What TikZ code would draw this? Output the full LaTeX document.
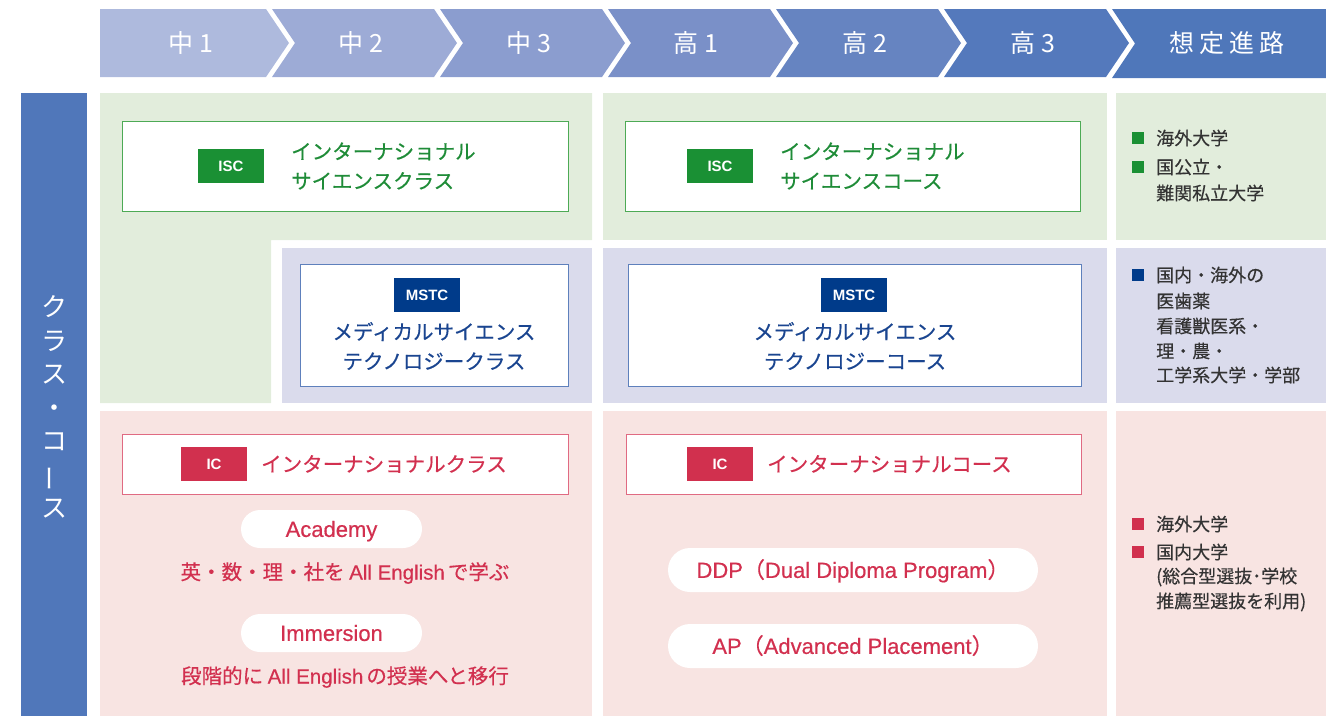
\documentclass[tikz,border=0pt]{standalone}
\usepackage{fontspec}
\setmainfont{Noto Sans CJK JP}
\newfontfamily\latf{Liberation Sans}
\newfontfamily\latm{Liberation Sans}[FakeBold=0.5]
\newfontfamily\jpm{Noto Sans CJK JP}[FakeBold=0.4]
\definecolor{sa}{HTML}{AEBADD}
\definecolor{sb}{HTML}{9DABD6}
\definecolor{sc}{HTML}{8B9DCF}
\definecolor{sd}{HTML}{7A90C8}
\definecolor{se}{HTML}{6684C1}
\definecolor{sf}{HTML}{5479BC}
\definecolor{sg}{HTML}{4F77BA}
\definecolor{barc}{HTML}{5077BA}
\definecolor{gbg}{HTML}{E2EDDC}
\definecolor{lbg}{HTML}{DADBEC}
\definecolor{pbg}{HTML}{F8E4E2}
\definecolor{gtag}{HTML}{1A9034}
\definecolor{gtxt}{HTML}{1F8C38}
\definecolor{gbd}{HTML}{4DAA55}
\definecolor{ntag}{HTML}{003B8A}
\definecolor{ntxt}{HTML}{1A4590}
\definecolor{nbd}{HTML}{5E80BC}
\definecolor{rtag}{HTML}{D1304E}
\definecolor{rtxt}{HTML}{D2304F}
\definecolor{rbd}{HTML}{E06A82}
\definecolor{txt}{HTML}{333333}
\tikzset{
  hdr/.style={text=white, inner sep=0, font=\fontsize{25}{30}\selectfont},
  tagbox/.style={minimum width=66pt, minimum height=34pt, inner sep=0, text=white,
    text height=10.7pt, text depth=0pt, font=\latf\bfseries\fontsize{15}{18}\selectfont},
  frame/.style={draw, fill=white, line width=0.9pt, inner sep=0},
  pill/.style={fill=white, rounded corners=19pt, inner sep=0, text=rtxt,
    text height=15.8pt, text depth=0pt, font=\latm\fontsize{22}{26}\selectfont},
  jptxt/.style={font=\jpm\fontsize{20.5}{29.5}\selectfont, inner sep=0},
  subtxt/.style={font=\jpm\fontsize{20.5}{24}\selectfont, inner sep=0, text=rtxt},
  body/.style={font=\jpm\fontsize{18}{22}\selectfont, text=txt, anchor=west, inner sep=0},
  bul/.style={minimum size=12pt, inner sep=0}
}
\begin{document}
\begin{tikzpicture}[x=1pt,y=-1pt]
\useasboundingbox (0,0) rectangle (1326,716);
% header chevrons
\fill[sa] (100,9)--(266,9)--(289,43)--(266,77)--(100,77)--cycle;
\foreach \L/\R/\c in {272/434/sb,440/602/sc,608/770/sd,776/938/se,944/1106/sf}
  \fill[\c] (\L,9)--(\R,9)--(\R+23,43)--(\R,77)--(\L,77)--(\L+23,43)--cycle;
\fill[sg] (1112,9)--(1326,9)--(1326,78)--(1112,78)--(1135,43.5)--cycle;
\node[hdr] (h1) at (191,43) {中 1};
\node[hdr] (h2) at (361,43) {中 2};
\node[hdr] (h3) at (529,43) {中 3};
\node[hdr] (h4) at (696,43) {高 1};
\node[hdr] (h5) at (865,43) {高 2};
\node[hdr] (h6) at (1033,43) {高 3};
\node[hdr] (h7) at (1227,43) {想\hspace{5pt}定\hspace{5pt}進\hspace{5pt}路};
% left bar
\fill[barc] (21,93) rectangle (87,716);
\node[text=white, align=center, inner sep=0, font=\fontsize{26}{33.5}\selectfont] (side) at (54,407)
  {ク\\ラ\\ス\\・\\コ\\\rotatebox[origin=c]{90}{ー}\\ス};
% panels
\fill[gbg] (100,93)--(592,93)--(592,240)--(271,240)--(271,403)--(100,403)--cycle;
\fill[lbg] (282,248) rectangle (592,403);
\fill[gbg] (603,93) rectangle (1107,240);
\fill[lbg] (603,248) rectangle (1107,403);
\fill[gbg] (1116,93) rectangle (1326,240);
\fill[lbg] (1116,248) rectangle (1326,403);
\fill[pbg] (100,411) rectangle (592,716);
\fill[pbg] (603,411) rectangle (1107,716);
\fill[pbg] (1116,411) rectangle (1326,716);
% ISC
\node[frame, draw=gbd, minimum width=446pt, minimum height=90pt] (iscL) at (345,166) {};
\node[tagbox, fill=gtag] (iscLt) at (231,166) {ISC};
\node[jptxt, text=gtxt, anchor=west, align=left] (iscLx) at (291,166) {インターナショナル\\サイエンスクラス};
\node[frame, draw=gbd, minimum width=455pt, minimum height=90pt] (iscR) at (852.5,166) {};
\node[tagbox, fill=gtag] (iscRt) at (720,166) {ISC};
\node[jptxt, text=gtxt, anchor=west, align=left] (iscRx) at (780,166) {インターナショナル\\サイエンスコース};
% MSTC
\node[frame, draw=nbd, minimum width=268pt, minimum height=122pt] (mstL) at (434,325) {};
\node[tagbox, fill=ntag] (mstLt) at (427,295) {MSTC};
\node[jptxt, text=ntxt, align=center] (mstLx) at (434,346) {メディカルサイエンス\\テクノロジークラス};
\node[frame, draw=nbd, minimum width=453pt, minimum height=122pt] (mstR) at (854.5,325) {};
\node[tagbox, fill=ntag] (mstRt) at (854,295) {MSTC};
\node[jptxt, text=ntxt, align=center] (mstRx) at (855,346) {メディカルサイエンス\\テクノロジーコース};
% IC
\node[frame, draw=rbd, minimum width=446pt, minimum height=60pt] (icL) at (345,464) {};
\node[tagbox, fill=rtag] (icLt) at (214,464) {IC};
\node[jptxt, text=rtxt, anchor=west] (icLx) at (261,464) {インターナショナルクラス};
\node[frame, draw=rbd, minimum width=455pt, minimum height=60pt] (icR) at (853.5,464) {};
\node[tagbox, fill=rtag] (icRt) at (720,464) {IC};
\node[jptxt, text=rtxt, anchor=west] (icRx) at (767,464) {インターナショナルコース};
% pills
\node[pill, minimum width=181pt, minimum height=38pt] (acad) at (331.5,529) {Academy};
\node[subtxt] (acadx) at (345,573) {英・数・理・社を {\latm All English}\hspace{3pt}で学ぶ};
\node[pill, minimum width=181pt, minimum height=38pt] (imm) at (331.5,633) {Immersion};
\node[subtxt] (immx) at (345,677) {段階的に {\latm All English}\hspace{3pt}の授業へと移行};
\node[pill, rounded corners=22pt, minimum width=370pt, minimum height=44pt] (ddp) at (853,570)
  {DDP{\jpm （}Dual Diploma Program{\jpm ）}};
\node[pill, rounded corners=22pt, minimum width=370pt, minimum height=44pt] (ap) at (853,646)
  {AP{\jpm （}Advanced Placement{\jpm ）}};
% right column
\node[bul, fill=gtag] (bg1) at (1137.5,138) {};
\node[body] (g1) at (1156,138) {海外大学};
\node[bul, fill=gtag] (bg2) at (1137.5,167) {};
\node[body] (g2) at (1156,167) {国公立・};
\node[body] (g3) at (1156,193) {難関私立大学};
\node[bul, fill=ntag] (bn1) at (1137.5,275) {};
\node[body] (n1) at (1156,275) {国内・海外の};
\node[body] (n2) at (1156,301) {医歯薬};
\node[body] (n3) at (1156,326) {看護獣医系・};
\node[body] (n4) at (1156,351) {理・農・};
\node[body] (n5) at (1156,375) {工学系大学・学部};
\node[bul, fill=rtag] (br1) at (1137.5,524) {};
\node[body] (r1) at (1156,524) {海外大学};
\node[bul, fill=rtag] (br2) at (1137.5,552) {};
\node[body] (r2) at (1156,552) {国内大学};
\node[body] (r3) at (1156,577) {(総合型選抜･学校};
\node[body] (r4) at (1156,602) {推薦型選抜を利用)};
\end{tikzpicture}
\end{document}
